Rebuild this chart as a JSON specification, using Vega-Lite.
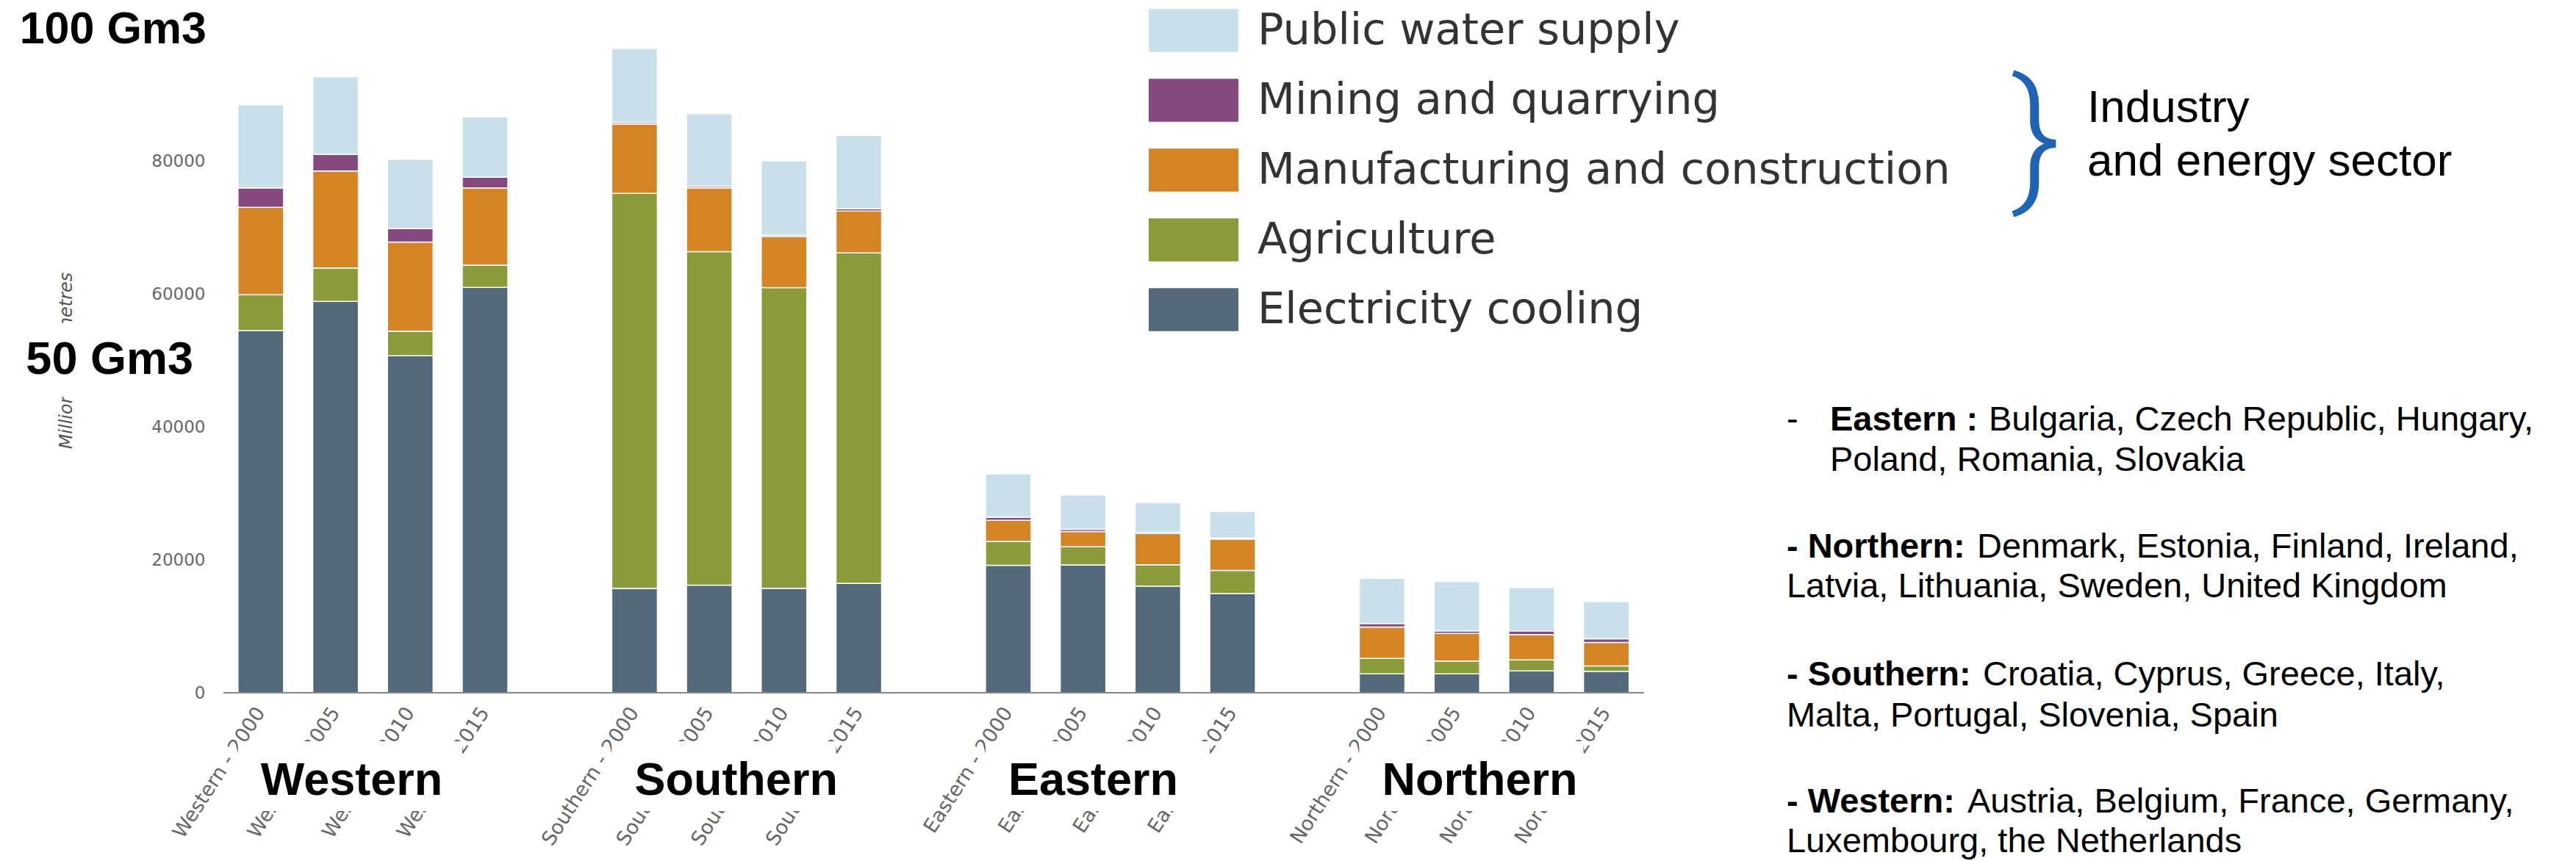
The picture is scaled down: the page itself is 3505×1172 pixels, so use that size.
{
  "$schema": "https://vega.github.io/schema/vega-lite/v6.json",
  "width": 3153,
  "height": 905,
  "autosize": {"type": "none"},
  "padding": {"left": 304, "top": 38, "right": 48, "bottom": 229},
  "config": {"view": {"stroke": null}, "axis": {"grid": false}},
  "resolve": {"scale": {"x": "independent"}, "axis": {"y": "independent"}},
  "datasets": {
    "water": [
      {"cat": "Western - 2000", "region": "Western", "sector": "Electricity cooling", "value": 54500},
      {"cat": "Western - 2000", "region": "Western", "sector": "Agriculture", "value": 5370},
      {"cat": "Western - 2000", "region": "Western", "sector": "Manufacturing and construction", "value": 13150},
      {"cat": "Western - 2000", "region": "Western", "sector": "Mining and quarrying", "value": 2920},
      {"cat": "Western - 2000", "region": "Western", "sector": "Public water supply", "value": 12520},
      {"cat": "Western - 2005", "region": "Western", "sector": "Electricity cooling", "value": 58860},
      {"cat": "Western - 2005", "region": "Western", "sector": "Agriculture", "value": 5030},
      {"cat": "Western - 2005", "region": "Western", "sector": "Manufacturing and construction", "value": 14590},
      {"cat": "Western - 2005", "region": "Western", "sector": "Mining and quarrying", "value": 2500},
      {"cat": "Western - 2005", "region": "Western", "sector": "Public water supply", "value": 11670},
      {"cat": "Western - 2010", "region": "Western", "sector": "Electricity cooling", "value": 50700},
      {"cat": "Western - 2010", "region": "Western", "sector": "Agriculture", "value": 3680},
      {"cat": "Western - 2010", "region": "Western", "sector": "Manufacturing and construction", "value": 13400},
      {"cat": "Western - 2010", "region": "Western", "sector": "Mining and quarrying", "value": 2030},
      {"cat": "Western - 2010", "region": "Western", "sector": "Public water supply", "value": 10440},
      {"cat": "Western - 2015", "region": "Western", "sector": "Electricity cooling", "value": 60970},
      {"cat": "Western - 2015", "region": "Western", "sector": "Agriculture", "value": 3340},
      {"cat": "Western - 2015", "region": "Western", "sector": "Manufacturing and construction", "value": 11630},
      {"cat": "Western - 2015", "region": "Western", "sector": "Mining and quarrying", "value": 1610},
      {"cat": "Western - 2015", "region": "Western", "sector": "Public water supply", "value": 9050},
      {"cat": "Southern - 2000", "region": "Southern", "sector": "Electricity cooling", "value": 15700},
      {"cat": "Southern - 2000", "region": "Southern", "sector": "Agriculture", "value": 59400},
      {"cat": "Southern - 2000", "region": "Southern", "sector": "Manufacturing and construction", "value": 10440},
      {"cat": "Southern - 2000", "region": "Southern", "sector": "Mining and quarrying", "value": 250},
      {"cat": "Southern - 2000", "region": "Southern", "sector": "Public water supply", "value": 11110},
      {"cat": "Southern - 2005", "region": "Southern", "sector": "Electricity cooling", "value": 16180},
      {"cat": "Southern - 2005", "region": "Southern", "sector": "Agriculture", "value": 50160},
      {"cat": "Southern - 2005", "region": "Southern", "sector": "Manufacturing and construction", "value": 9600},
      {"cat": "Southern - 2005", "region": "Southern", "sector": "Mining and quarrying", "value": 250},
      {"cat": "Southern - 2005", "region": "Southern", "sector": "Public water supply", "value": 10910},
      {"cat": "Southern - 2010", "region": "Southern", "sector": "Electricity cooling", "value": 15710},
      {"cat": "Southern - 2010", "region": "Southern", "sector": "Agriculture", "value": 45220},
      {"cat": "Southern - 2010", "region": "Southern", "sector": "Manufacturing and construction", "value": 7700},
      {"cat": "Southern - 2010", "region": "Southern", "sector": "Mining and quarrying", "value": 210},
      {"cat": "Southern - 2010", "region": "Southern", "sector": "Public water supply", "value": 11160},
      {"cat": "Southern - 2015", "region": "Southern", "sector": "Electricity cooling", "value": 16470},
      {"cat": "Southern - 2015", "region": "Southern", "sector": "Agriculture", "value": 49700},
      {"cat": "Southern - 2015", "region": "Southern", "sector": "Manufacturing and construction", "value": 6300},
      {"cat": "Southern - 2015", "region": "Southern", "sector": "Mining and quarrying", "value": 340},
      {"cat": "Southern - 2015", "region": "Southern", "sector": "Public water supply", "value": 11040},
      {"cat": "Eastern - 2000", "region": "Eastern", "sector": "Electricity cooling", "value": 19170},
      {"cat": "Eastern - 2000", "region": "Eastern", "sector": "Agriculture", "value": 3600},
      {"cat": "Eastern - 2000", "region": "Eastern", "sector": "Manufacturing and construction", "value": 3180},
      {"cat": "Eastern - 2000", "region": "Eastern", "sector": "Mining and quarrying", "value": 470},
      {"cat": "Eastern - 2000", "region": "Eastern", "sector": "Public water supply", "value": 6500},
      {"cat": "Eastern - 2005", "region": "Eastern", "sector": "Electricity cooling", "value": 19220},
      {"cat": "Eastern - 2005", "region": "Eastern", "sector": "Agriculture", "value": 2750},
      {"cat": "Eastern - 2005", "region": "Eastern", "sector": "Manufacturing and construction", "value": 2280},
      {"cat": "Eastern - 2005", "region": "Eastern", "sector": "Mining and quarrying", "value": 330},
      {"cat": "Eastern - 2005", "region": "Eastern", "sector": "Public water supply", "value": 5170},
      {"cat": "Eastern - 2010", "region": "Eastern", "sector": "Electricity cooling", "value": 16040},
      {"cat": "Eastern - 2010", "region": "Eastern", "sector": "Agriculture", "value": 3220},
      {"cat": "Eastern - 2010", "region": "Eastern", "sector": "Manufacturing and construction", "value": 4700},
      {"cat": "Eastern - 2010", "region": "Eastern", "sector": "Mining and quarrying", "value": 190},
      {"cat": "Eastern - 2010", "region": "Eastern", "sector": "Public water supply", "value": 4460},
      {"cat": "Eastern - 2015", "region": "Eastern", "sector": "Electricity cooling", "value": 14950},
      {"cat": "Eastern - 2015", "region": "Eastern", "sector": "Agriculture", "value": 3460},
      {"cat": "Eastern - 2015", "region": "Eastern", "sector": "Manufacturing and construction", "value": 4700},
      {"cat": "Eastern - 2015", "region": "Eastern", "sector": "Mining and quarrying", "value": 190},
      {"cat": "Eastern - 2015", "region": "Eastern", "sector": "Public water supply", "value": 3980},
      {"cat": "Northern - 2000", "region": "Northern", "sector": "Electricity cooling", "value": 2850},
      {"cat": "Northern - 2000", "region": "Northern", "sector": "Agriculture", "value": 2320},
      {"cat": "Northern - 2000", "region": "Northern", "sector": "Manufacturing and construction", "value": 4720},
      {"cat": "Northern - 2000", "region": "Northern", "sector": "Mining and quarrying", "value": 520},
      {"cat": "Northern - 2000", "region": "Northern", "sector": "Public water supply", "value": 6800},
      {"cat": "Northern - 2005", "region": "Northern", "sector": "Electricity cooling", "value": 2850},
      {"cat": "Northern - 2005", "region": "Northern", "sector": "Agriculture", "value": 1920},
      {"cat": "Northern - 2005", "region": "Northern", "sector": "Manufacturing and construction", "value": 4160},
      {"cat": "Northern - 2005", "region": "Northern", "sector": "Mining and quarrying", "value": 380},
      {"cat": "Northern - 2005", "region": "Northern", "sector": "Public water supply", "value": 7440},
      {"cat": "Northern - 2010", "region": "Northern", "sector": "Electricity cooling", "value": 3290},
      {"cat": "Northern - 2010", "region": "Northern", "sector": "Agriculture", "value": 1660},
      {"cat": "Northern - 2010", "region": "Northern", "sector": "Manufacturing and construction", "value": 3800},
      {"cat": "Northern - 2010", "region": "Northern", "sector": "Mining and quarrying", "value": 550},
      {"cat": "Northern - 2010", "region": "Northern", "sector": "Public water supply", "value": 6520},
      {"cat": "Northern - 2015", "region": "Northern", "sector": "Electricity cooling", "value": 3230},
      {"cat": "Northern - 2015", "region": "Northern", "sector": "Agriculture", "value": 800},
      {"cat": "Northern - 2015", "region": "Northern", "sector": "Manufacturing and construction", "value": 3540},
      {"cat": "Northern - 2015", "region": "Northern", "sector": "Mining and quarrying", "value": 550},
      {"cat": "Northern - 2015", "region": "Northern", "sector": "Public water supply", "value": 5600}
    ],
    "groups": [
      {"group": "Western", "first": "Western - 2000", "last": "Western - 2015"},
      {"group": "Southern", "first": "Southern - 2000", "last": "Southern - 2015"},
      {"group": "Eastern", "first": "Eastern - 2000", "last": "Eastern - 2015"},
      {"group": "Northern", "first": "Northern - 2000", "last": "Northern - 2015"}
    ],
    "notes": [
      {"region": "Eastern", "bullet": "-", "label": "Eastern :", "line1": "Bulgaria, Czech Republic, Hungary,", "line2": "Poland, Romania, Slovakia"},
      {"region": "Northern", "bullet": "", "label": "- Northern:", "line1": "Denmark, Estonia, Finland, Ireland,", "line2": "Latvia, Lithuania, Sweden, United Kingdom"},
      {"region": "Southern", "bullet": "", "label": "- Southern:", "line1": "Croatia, Cyprus, Greece, Italy,", "line2": "Malta, Portugal, Slovenia, Spain"},
      {"region": "Western", "bullet": "", "label": "- Western:", "line1": "Austria, Belgium, France, Germany,", "line2": "Luxembourg, the Netherlands"}
    ]
  },
  "layer": [
    {
      "data": {"name": "water"},
      "transform": [{"window": [{"op": "row_number", "as": "stackRank"}], "groupby": ["cat"]}],
      "mark": {"type": "bar", "stroke": "white", "strokeWidth": 1.5},
      "encoding": {
        "x": {
          "field": "cat", "type": "nominal",
          "scale": {"domain": ["Western - 2000","Western - 2005","Western - 2010","Western - 2015","gap 1","Southern - 2000","Southern - 2005","Southern - 2010","Southern - 2015","gap 2","Eastern - 2000","Eastern - 2005","Eastern - 2010","Eastern - 2015","gap 3","Northern - 2000","Northern - 2005","Northern - 2010","Northern - 2015","pad 1","pad 2","pad 3","pad 4","pad 5","pad 6","pad 7","pad 8","pad 9","pad 10","pad 11","pad 12"], "paddingInner": 0.39, "paddingOuter": 0.195},
          "axis": {
            "values": ["Western - 2000","Western - 2005","Western - 2010","Western - 2015","Southern - 2000","Southern - 2005","Southern - 2010","Southern - 2015","Eastern - 2000","Eastern - 2005","Eastern - 2010","Eastern - 2015","Northern - 2000","Northern - 2005","Northern - 2010","Northern - 2015"],
            "title": null, "domain": false, "ticks": false, "labelAngle": -57,
            "labelFont": "DejaVu Sans", "labelFontSize": 27, "labelColor": "#666666",
            "labelPadding": 22, "labelLimit": 500, "labelOverlap": false
          }
        },
        "y": {
          "field": "value", "type": "quantitative", "stack": "zero",
          "scale": {"domain": [0, 100000], "nice": false},
          "axis": {
            "values": [0, 20000, 40000, 60000, 80000], "format": "d",
            "domain": false, "ticks": false, "grid": false,
            "labelFont": "DejaVu Sans", "labelFontSize": 23, "labelColor": "#666666", "labelPadding": 25,
            "title": "Million cubic metres", "titleFont": "DejaVu Sans", "titleFontSize": 24,
            "titleFontStyle": "italic", "titleFontWeight": "normal", "titleColor": "#555555", "titlePadding": 103
          }
        },
        "order": {"field": "stackRank", "type": "quantitative", "sort": "ascending"},
        "color": {
          "field": "sector", "type": "nominal",
          "scale": {
            "domain": ["Public water supply", "Mining and quarrying", "Manufacturing and construction", "Agriculture", "Electricity cooling"],
            "range": ["#c8e0ea", "#84497e", "#d48424", "#8a9b3a", "#52687b"]
          },
          "legend": {
            "orient": "none", "legendX": 1289.5, "legendY": -27, "title": null, "padding": 0,
            "symbolType": "M-2,-0.96H2V0.96H-2Z", "symbolSize": 3721, "symbolStrokeWidth": 0, "symbolOpacity": 1,
            "labelFont": "DejaVu Sans", "labelFontSize": 59, "labelColor": "#333333",
            "labelOffset": 56.5, "rowPadding": 34, "labelLimit": 1500
          }
        }
      }
    },
    {
      "data": {"values": [{}]},
      "mark": {"type": "rule", "color": "#888888", "strokeWidth": 2},
      "encoding": {
        "x": {"datum": 0, "type": "quantitative", "scale": {"domain": [0, 31], "nice": false, "zero": false}, "axis": null},
        "x2": {"datum": 19.005},
        "y": {"datum": 0, "type": "quantitative", "scale": {"domain": [0, 100000], "nice": false}, "axis": null}
      }
    },
    {
      "data": {"values": [{}]},
      "mark": {"type": "rect", "color": "white"},
      "encoding": {
        "x": {"datum": -2.743, "type": "quantitative", "scale": {"domain": [0, 31], "nice": false, "zero": false}, "axis": null},
        "x2": {"datum": -0.315},
        "y": {"datum": 55580, "type": "quantitative", "scale": {"domain": [0, 100000], "nice": false}, "axis": null},
        "y2": {"datum": 44530}
      }
    },
    {
      "data": {"values": [{"text": "100 Gm3"}]},
      "mark": {"type": "text", "align": "right", "baseline": "alphabetic", "font": "Liberation Sans", "fontWeight": "bold", "fontSize": 61, "color": "black"},
      "encoding": {
        "x": {"datum": -0.226, "type": "quantitative", "scale": {"domain": [0, 31], "nice": false, "zero": false}, "axis": null},
        "y": {"datum": 97680, "type": "quantitative", "scale": {"domain": [0, 100000], "nice": false}, "axis": null},
        "text": {"field": "text"}
      }
    },
    {
      "data": {"values": [{"text": "50 Gm3"}]},
      "mark": {"type": "text", "align": "right", "baseline": "alphabetic", "font": "Liberation Sans", "fontWeight": "bold", "fontSize": 63, "color": "black"},
      "encoding": {
        "x": {"datum": -0.403, "type": "quantitative", "scale": {"domain": [0, 31], "nice": false, "zero": false}, "axis": null},
        "y": {"datum": 47960, "type": "quantitative", "scale": {"domain": [0, 100000], "nice": false}, "axis": null},
        "text": {"field": "text"}
      }
    },
    {
      "data": {"name": "groups"},
      "mark": {"type": "rect", "color": "white"},
      "encoding": {
        "x": {
          "field": "first", "type": "nominal", "bandPosition": 0, "axis": null,
          "scale": {"domain": ["Western - 2000","Western - 2005","Western - 2010","Western - 2015","gap 1","Southern - 2000","Southern - 2005","Southern - 2010","Southern - 2015","gap 2","Eastern - 2000","Eastern - 2005","Eastern - 2010","Eastern - 2015","gap 3","Northern - 2000","Northern - 2005","Northern - 2010","Northern - 2015","pad 1","pad 2","pad 3","pad 4","pad 5","pad 6","pad 7","pad 8","pad 9","pad 10","pad 11","pad 12"], "paddingInner": 0.39, "paddingOuter": 0.195}
        },
        "x2": {"field": "last", "bandPosition": 0},
        "y": {"datum": -7300, "type": "quantitative", "scale": {"domain": [0, 100000], "nice": false}, "axis": null},
        "y2": {"datum": -17800}
      }
    },
    {
      "data": {"name": "groups"},
      "mark": {"type": "text", "align": "left", "baseline": "alphabetic", "font": "Liberation Sans", "fontWeight": "bold", "fontSize": 63, "color": "black"},
      "encoding": {
        "x": {
          "field": "first", "type": "nominal", "bandPosition": 0.6, "axis": null,
          "scale": {"domain": ["Western - 2000","Western - 2005","Western - 2010","Western - 2015","gap 1","Southern - 2000","Southern - 2005","Southern - 2010","Southern - 2015","gap 2","Eastern - 2000","Eastern - 2005","Eastern - 2010","Eastern - 2015","gap 3","Northern - 2000","Northern - 2005","Northern - 2010","Northern - 2015","pad 1","pad 2","pad 3","pad 4","pad 5","pad 6","pad 7","pad 8","pad 9","pad 10","pad 11","pad 12"], "paddingInner": 0.39, "paddingOuter": 0.195}
        },
        "y": {"datum": -15400, "type": "quantitative", "scale": {"domain": [0, 100000], "nice": false}, "axis": null},
        "text": {"field": "group"}
      }
    },
    {
      "data": {"values": [{"text": "}"}]},
      "mark": {"type": "text", "align": "center", "baseline": "middle", "font": "Roboto", "fontWeight": 300, "fontSize": 205, "color": "#1f63b5"},
      "encoding": {
        "x": {"datum": 24.25, "type": "quantitative", "scale": {"domain": [0, 31], "nice": false, "zero": false}, "axis": null},
        "y": {"datum": 82900, "type": "quantitative", "scale": {"domain": [0, 100000], "nice": false}, "axis": null},
        "text": {"field": "text"}
      }
    },
    {
      "data": {"values": [{"text": "Industry"}]},
      "mark": {"type": "text", "align": "left", "baseline": "alphabetic", "font": "Liberation Sans", "fontSize": 62, "color": "black"},
      "encoding": {
        "x": {"datum": 24.934, "type": "quantitative", "scale": {"domain": [0, 31], "nice": false, "zero": false}, "axis": null},
        "y": {"datum": 85856, "type": "quantitative", "scale": {"domain": [0, 100000], "nice": false}, "axis": null},
        "text": {"field": "text"}
      }
    },
    {
      "data": {"values": [{"text": "and energy sector"}]},
      "mark": {"type": "text", "align": "left", "baseline": "alphabetic", "font": "Liberation Sans", "fontSize": 62, "color": "black"},
      "encoding": {
        "x": {"datum": 24.934, "type": "quantitative", "scale": {"domain": [0, 31], "nice": false, "zero": false}, "axis": null},
        "y": {"datum": 77790, "type": "quantitative", "scale": {"domain": [0, 100000], "nice": false}, "axis": null},
        "text": {"field": "text"}
      }
    },
    {
      "data": {"name": "notes"},
      "transform": [{"filter": "datum.region == 'Eastern'"}],
      "mark": {"type": "text", "align": "left", "baseline": "alphabetic", "font": "Liberation Sans", "fontSize": 47, "color": "black"},
      "encoding": {
        "x": {"datum": 20.912, "type": "quantitative", "scale": {"domain": [0, 31], "nice": false, "zero": false}, "axis": null},
        "y": {"datum": 39448, "type": "quantitative", "scale": {"domain": [0, 100000], "nice": false}, "axis": null},
        "text": {"field": "bullet"}
      }
    },
    {
      "data": {"name": "notes"},
      "transform": [{"filter": "datum.region == 'Eastern'"}],
      "mark": {"type": "text", "align": "left", "baseline": "alphabetic", "font": "Liberation Sans", "fontWeight": "bold", "fontSize": 47, "color": "black"},
      "encoding": {
        "x": {"datum": 21.492, "type": "quantitative", "scale": {"domain": [0, 31], "nice": false, "zero": false}, "axis": null},
        "y": {"datum": 39448, "type": "quantitative", "scale": {"domain": [0, 100000], "nice": false}, "axis": null},
        "text": {"field": "label"}
      }
    },
    {
      "data": {"name": "notes"},
      "transform": [{"filter": "datum.region == 'Eastern'"}],
      "mark": {"type": "text", "align": "left", "baseline": "alphabetic", "font": "Liberation Sans", "fontSize": 47, "color": "black"},
      "encoding": {
        "x": {"datum": 23.616, "type": "quantitative", "scale": {"domain": [0, 31], "nice": false, "zero": false}, "axis": null},
        "y": {"datum": 39448, "type": "quantitative", "scale": {"domain": [0, 100000], "nice": false}, "axis": null},
        "text": {"field": "line1"}
      }
    },
    {
      "data": {"name": "notes"},
      "transform": [{"filter": "datum.region == 'Eastern'"}],
      "mark": {"type": "text", "align": "left", "baseline": "alphabetic", "font": "Liberation Sans", "fontSize": 47, "color": "black"},
      "encoding": {
        "x": {"datum": 21.492, "type": "quantitative", "scale": {"domain": [0, 31], "nice": false, "zero": false}, "axis": null},
        "y": {"datum": 33370, "type": "quantitative", "scale": {"domain": [0, 100000], "nice": false}, "axis": null},
        "text": {"field": "line2"}
      }
    },
    {
      "data": {"name": "notes"},
      "transform": [{"filter": "datum.region == 'Northern'"}],
      "mark": {"type": "text", "align": "left", "baseline": "alphabetic", "font": "Liberation Sans", "fontWeight": "bold", "fontSize": 47, "color": "black"},
      "encoding": {
        "x": {"datum": 20.912, "type": "quantitative", "scale": {"domain": [0, 31], "nice": false, "zero": false}, "axis": null},
        "y": {"datum": 20331, "type": "quantitative", "scale": {"domain": [0, 100000], "nice": false}, "axis": null},
        "text": {"field": "label"}
      }
    },
    {
      "data": {"name": "notes"},
      "transform": [{"filter": "datum.region == 'Northern'"}],
      "mark": {"type": "text", "align": "left", "baseline": "alphabetic", "font": "Liberation Sans", "fontSize": 47, "color": "black"},
      "encoding": {
        "x": {"datum": 23.459, "type": "quantitative", "scale": {"domain": [0, 31], "nice": false, "zero": false}, "axis": null},
        "y": {"datum": 20331, "type": "quantitative", "scale": {"domain": [0, 100000], "nice": false}, "axis": null},
        "text": {"field": "line1"}
      }
    },
    {
      "data": {"name": "notes"},
      "transform": [{"filter": "datum.region == 'Northern'"}],
      "mark": {"type": "text", "align": "left", "baseline": "alphabetic", "font": "Liberation Sans", "fontSize": 47, "color": "black"},
      "encoding": {
        "x": {"datum": 20.912, "type": "quantitative", "scale": {"domain": [0, 31], "nice": false, "zero": false}, "axis": null},
        "y": {"datum": 14365, "type": "quantitative", "scale": {"domain": [0, 100000], "nice": false}, "axis": null},
        "text": {"field": "line2"}
      }
    },
    {
      "data": {"name": "notes"},
      "transform": [{"filter": "datum.region == 'Southern'"}],
      "mark": {"type": "text", "align": "left", "baseline": "alphabetic", "font": "Liberation Sans", "fontWeight": "bold", "fontSize": 47, "color": "black"},
      "encoding": {
        "x": {"datum": 20.912, "type": "quantitative", "scale": {"domain": [0, 31], "nice": false, "zero": false}, "axis": null},
        "y": {"datum": 1105, "type": "quantitative", "scale": {"domain": [0, 100000], "nice": false}, "axis": null},
        "text": {"field": "label"}
      }
    },
    {
      "data": {"name": "notes"},
      "transform": [{"filter": "datum.region == 'Southern'"}],
      "mark": {"type": "text", "align": "left", "baseline": "alphabetic", "font": "Liberation Sans", "fontSize": 47, "color": "black"},
      "encoding": {
        "x": {"datum": 23.537, "type": "quantitative", "scale": {"domain": [0, 31], "nice": false, "zero": false}, "axis": null},
        "y": {"datum": 1105, "type": "quantitative", "scale": {"domain": [0, 100000], "nice": false}, "axis": null},
        "text": {"field": "line1"}
      }
    },
    {
      "data": {"name": "notes"},
      "transform": [{"filter": "datum.region == 'Southern'"}],
      "mark": {"type": "text", "align": "left", "baseline": "alphabetic", "font": "Liberation Sans", "fontSize": 47, "color": "black"},
      "encoding": {
        "x": {"datum": 20.912, "type": "quantitative", "scale": {"domain": [0, 31], "nice": false, "zero": false}, "axis": null},
        "y": {"datum": -5083, "type": "quantitative", "scale": {"domain": [0, 100000], "nice": false}, "axis": null},
        "text": {"field": "line2"}
      }
    },
    {
      "data": {"name": "notes"},
      "transform": [{"filter": "datum.region == 'Western'"}],
      "mark": {"type": "text", "align": "left", "baseline": "alphabetic", "font": "Liberation Sans", "fontWeight": "bold", "fontSize": 47, "color": "black"},
      "encoding": {
        "x": {"datum": 20.912, "type": "quantitative", "scale": {"domain": [0, 31], "nice": false, "zero": false}, "axis": null},
        "y": {"datum": -18011, "type": "quantitative", "scale": {"domain": [0, 100000], "nice": false}, "axis": null},
        "text": {"field": "label"}
      }
    },
    {
      "data": {"name": "notes"},
      "transform": [{"filter": "datum.region == 'Western'"}],
      "mark": {"type": "text", "align": "left", "baseline": "alphabetic", "font": "Liberation Sans", "fontSize": 47, "color": "black"},
      "encoding": {
        "x": {"datum": 23.331, "type": "quantitative", "scale": {"domain": [0, 31], "nice": false, "zero": false}, "axis": null},
        "y": {"datum": -18011, "type": "quantitative", "scale": {"domain": [0, 100000], "nice": false}, "axis": null},
        "text": {"field": "line1"}
      }
    },
    {
      "data": {"name": "notes"},
      "transform": [{"filter": "datum.region == 'Western'"}],
      "mark": {"type": "text", "align": "left", "baseline": "alphabetic", "font": "Liberation Sans", "fontSize": 47, "color": "black"},
      "encoding": {
        "x": {"datum": 20.912, "type": "quantitative", "scale": {"domain": [0, 31], "nice": false, "zero": false}, "axis": null},
        "y": {"datum": -23978, "type": "quantitative", "scale": {"domain": [0, 100000], "nice": false}, "axis": null},
        "text": {"field": "line2"}
      }
    }
  ]
}
